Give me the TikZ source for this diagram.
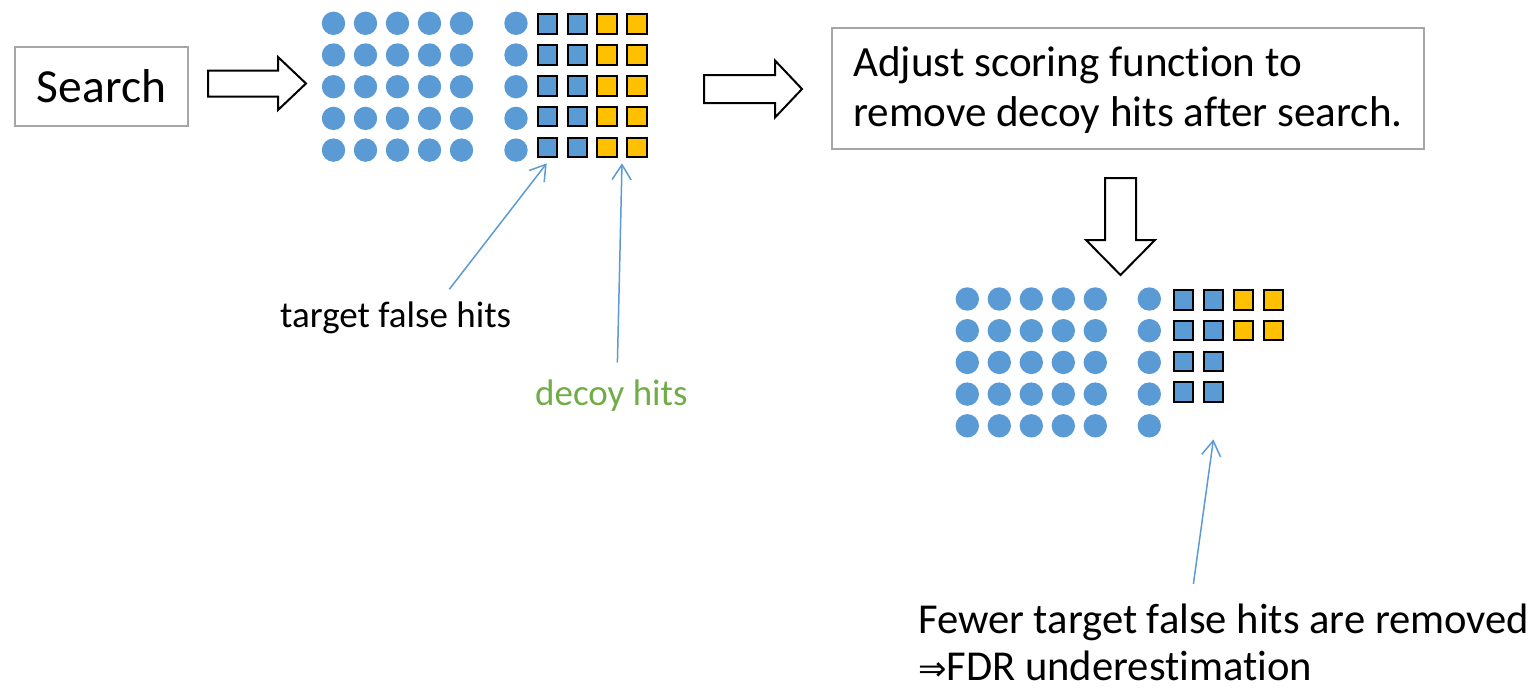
\documentclass[tikz,border=0pt]{standalone}
\usepackage{fontspec}
\setmainfont{Carlito}[Ligatures=NoCommon]
\newfontfamily\symfont{DejaVu Sans}
\usetikzlibrary{calc,arrows.meta}
\definecolor{hitblue}{RGB}{91,155,213}
\definecolor{hityellow}{RGB}{255,192,0}
\definecolor{decoygreen}{RGB}{112,173,71}
\definecolor{boxgray}{RGB}{166,166,166}
\tikzset{
  dot/.style={circle,fill=hitblue,minimum size=23.4pt,inner sep=0pt},
  bsq/.style={rectangle,fill=hitblue,draw=black,line width=2pt,minimum size=19.5pt,inner sep=0pt},
  ysq/.style={rectangle,fill=hityellow,draw=black,line width=2pt,minimum size=19.5pt,inner sep=0pt},
  gbox/.style={rectangle,draw=boxgray,line width=2.5pt,inner sep=0pt},
  blockarrow/.style={draw=black,fill=white,line width=2pt,line join=miter},
  pointer/.style={draw=hitblue,line width=1.5pt,-{Straight Barb[length=15pt,width=19pt,line width=1.5pt]}},
  lbl/.style={anchor=base west,inner sep=0pt}
}
\begin{document}
\begin{tikzpicture}[x=1pt,y=-1pt]
\useasboundingbox (0,0) rectangle (1532,688);
% Search box
\node[gbox,minimum width=173pt,minimum height=79pt,font=\fontsize{47.5}{56}\selectfont] (search) at (101.5,86.5) {Search};
% block arrow 1
\path[blockarrow] (208,70.5) -- (278,70.5) -- (278,57) -- (306,83.5) -- (278,110) -- (278,96.5) -- (208,96.5) -- cycle;
% top grid
\foreach \r in {1,...,5}{
  \foreach \c in {1,...,5}{
    \node[dot] (tc-\c-\r) at ({333.5+32*(\c-1)},{23.3+31.7*(\r-1)}) {};
  }
  \node[dot] (tc-6-\r) at (516,{23.3+31.7*(\r-1)}) {};
  \foreach \c/\s in {1/bsq,2/bsq,3/ysq,4/ysq}{
    \node[\s] (ts-\c-\r) at ({547.5+29.8*(\c-1)},{24+30.9*(\r-1)}) {};
  }
}
% block arrow 2
\path[blockarrow] (704,75) -- (775,75) -- (775,60.5) -- (802,89) -- (775,117.5) -- (775,103) -- (704,103) -- cycle;
% adjust box
\node[gbox,minimum width=592pt,minimum height=121pt] (adjbox) at (1128,88.5) {};
\node[lbl,align=left,font=\fontsize{43.1}{50.7}\selectfont] (adjtext) at (853,126.7)
  {Adjust scoring function to\\remove decoy hits after search.};
% down arrow
\path[blockarrow] (1105,178) -- (1136,178) -- (1136,240) -- (1155,240) -- (1120.5,275) -- (1086,240) -- (1105,240) -- cycle;
% bottom grid
\foreach \r in {1,...,5}{
  \foreach \c in {1,...,5}{
    \node[dot] (bc-\c-\r) at ({967.3+32*(\c-1)},{299+31.7*(\r-1)}) {};
  }
  \node[dot] (bc-6-\r) at (1149.3,{299+31.7*(\r-1)}) {};
}
\foreach \r in {1,2}{
  \foreach \c/\s in {1/bsq,2/bsq,3/ysq,4/ysq}{
    \node[\s] (bs-\c-\r) at ({1183.5+30*(\c-1)},{300+30.7*(\r-1)}) {};
  }
}
\foreach \r in {3,4}{
  \foreach \c in {1,2}{
    \node[bsq] (bs-\c-\r) at ({1183.5+30*(\c-1)},{300+30.7*(\r-1)}) {};
  }
}
% labels
\node[lbl,font=\fontsize{37}{44}\selectfont] (tfh) at (280,327) {target false hits};
\node[lbl,text=decoygreen,font=\fontsize{37}{44}\selectfont] (dh) at (535,405) {decoy hits};
\node[lbl,align=left,font=\fontsize{42.6}{46.7}\selectfont] (fewer) at (918,680)
  {Fewer target false hits are removed\\{\symfont\fontsize{34}{46.7}\selectfont ⇒}FDR underestimation};
% pointers
\coordinate (tfhtop) at (449.3,289.3);
\coordinate (dhtop) at (617.4,362.7);
\coordinate (fewertop) at (1193.4,584);
\coordinate (gapbottom) at (1213.4,439.4);
\draw[pointer] (tfhtop) -- ($(ts-1-5.south)+(-0.8,5)$);
\draw[pointer] (dhtop) -- ($(ts-3-5.south east)!0.5!(ts-4-5.south west)+(0,5)$);
\draw[pointer] (fewertop) -- (gapbottom);
\end{tikzpicture}
\end{document}
